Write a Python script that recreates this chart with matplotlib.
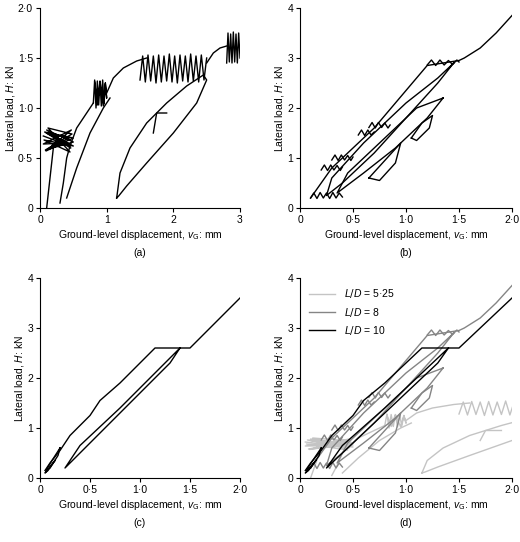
import matplotlib
matplotlib.use("Agg")
import matplotlib.pyplot as plt
from matplotlib.ticker import FuncFormatter, MultipleLocator

plt.rcParams["font.family"] = ["Liberation Sans", "DejaVu Sans"]
plt.rcParams["font.size"] = 7.5
plt.rcParams["mathtext.fontset"] = "custom"
plt.rcParams["mathtext.it"] = "Liberation Sans:italic"

# L/D = 5.25 (panel a): list of polylines (x mm, y kN)
a_lines = [
    ([0.10, 0.15, 0.20, 0.25], [0.0, 0.3, 0.6, 0.7]),
    ([0.05, 0.45, 0.10, 0.50, 0.08, 0.48, 0.12, 0.45, 0.06, 0.50, 0.10, 0.44, 0.15, 0.42,
      0.05, 0.47, 0.09, 0.50, 0.07, 0.46],
     [0.72, 0.62, 0.78, 0.66, 0.58, 0.74, 0.80, 0.56, 0.68, 0.62, 0.75, 0.70, 0.60, 0.65,
      0.64, 0.78, 0.57, 0.70, 0.76, 0.60]),
    ([0.30, 0.35, 0.40, 0.45], [0.05, 0.25, 0.50, 0.62]),
    ([0.40, 0.55, 0.75, 0.95, 1.05], [0.10, 0.40, 0.75, 1.00, 1.10]),
    ([0.45, 0.55, 0.70, 0.80], [0.62, 0.80, 0.95, 1.05]),
    ([0.80, 0.82, 0.84, 0.86, 0.88, 0.90, 0.92, 0.94, 0.96, 0.98, 1.00, 0.98, 0.95, 0.90, 0.86, 0.82],
     [1.05, 1.28, 1.00, 1.27, 1.03, 1.26, 1.02, 1.28, 1.04, 1.25, 1.10, 1.25, 1.02, 1.27, 1.03, 1.26]),
    ([1.00, 1.10, 1.25, 1.45, 1.60], [1.15, 1.30, 1.40, 1.47, 1.50]),
    ([1.50, 1.54, 1.58, 1.62, 1.66, 1.70, 1.74, 1.78, 1.82, 1.86, 1.90, 1.94, 1.98, 2.02, 2.06,
      2.10, 2.14, 2.18, 2.22, 2.26, 2.30, 2.34, 2.38, 2.42, 2.46, 2.50],
     [1.28, 1.52, 1.26, 1.53, 1.27, 1.52, 1.25, 1.53, 1.26, 1.52, 1.27, 1.54, 1.26, 1.52, 1.25,
      1.53, 1.27, 1.52, 1.26, 1.54, 1.27, 1.52, 1.26, 1.53, 1.28, 1.50]),
    ([2.50, 2.60, 2.70, 2.80], [1.45, 1.55, 1.60, 1.62]),
    ([2.80, 2.82, 2.84, 2.86, 2.88, 2.90, 2.92, 2.94, 2.96, 2.98, 3.00],
     [1.45, 1.75, 1.46, 1.74, 1.45, 1.76, 1.46, 1.74, 1.45, 1.75, 1.50]),
    ([1.15, 1.20, 1.35, 1.60, 1.90, 2.20, 2.45, 2.50, 2.35, 2.00, 1.60, 1.30, 1.18, 1.15],
     [0.10, 0.35, 0.60, 0.85, 1.05, 1.22, 1.33, 1.28, 1.05, 0.75, 0.45, 0.22, 0.12, 0.10]),
    ([1.70, 1.75, 1.90], [0.75, 0.95, 0.95]),
]

# L/D = 8 (panel b)
b_lines = [
    ([0.10, 0.20, 0.30, 0.50, 0.70, 0.90, 1.10, 1.20, 1.50, 1.55, 1.70, 1.85, 2.00],
     [0.20, 0.50, 0.80, 1.20, 1.60, 2.10, 2.60, 2.85, 2.95, 3.00, 3.20, 3.50, 3.85]),
    ([1.45, 1.30, 1.00, 0.70, 0.40, 0.25, 0.30, 0.60, 1.00, 1.30, 1.45],
     [2.90, 2.50, 1.80, 1.10, 0.50, 0.25, 0.60, 1.30, 2.10, 2.60, 2.90]),
    ([1.35, 1.20, 0.90, 0.60, 0.35, 0.45, 0.75, 1.10, 1.35],
     [2.20, 1.80, 1.20, 0.70, 0.30, 0.70, 1.30, 2.00, 2.20]),
    ([1.05, 1.15, 1.25, 1.22, 1.10, 1.05], [1.40, 1.70, 1.85, 1.60, 1.35, 1.40]),
    ([0.65, 0.80, 0.95, 0.90, 0.75, 0.65], [0.60, 0.95, 1.30, 0.90, 0.55, 0.60]),
    ([0.10, 0.13, 0.16, 0.19, 0.22, 0.25, 0.28, 0.31, 0.34, 0.37, 0.40],
     [0.20, 0.30, 0.19, 0.31, 0.20, 0.30, 0.19, 0.31, 0.20, 0.30, 0.22]),
    ([0.20, 0.23, 0.26, 0.29, 0.32, 0.35, 0.38, 0.40], [0.76, 0.86, 0.75, 0.86, 0.76, 0.85, 0.75, 0.82]),
    ([0.30, 0.33, 0.36, 0.39, 0.42, 0.45, 0.48, 0.50], [0.96, 1.06, 0.95, 1.06, 0.96, 1.05, 0.95, 1.02]),
    ([0.55, 0.58, 0.61, 0.64, 0.67, 0.70], [1.46, 1.56, 1.45, 1.56, 1.46, 1.52]),
    ([0.65, 0.68, 0.71, 0.74, 0.77, 0.80, 0.83, 0.85], [1.61, 1.71, 1.60, 1.71, 1.61, 1.70, 1.60, 1.66]),
    ([1.20, 1.24, 1.28, 1.32, 1.36, 1.40, 1.44, 1.48, 1.50],
     [2.86, 2.96, 2.85, 2.96, 2.86, 2.95, 2.87, 2.96, 2.92]),
]

# L/D = 10 (panel c)
c_lines = [
    ([0.05, 0.10, 0.20, 0.30, 0.50, 0.60, 0.80, 1.00, 1.15, 1.50, 1.60, 1.80, 2.00],
     [0.15, 0.30, 0.55, 0.85, 1.25, 1.55, 1.90, 2.30, 2.60, 2.60, 2.80, 3.20, 3.60]),
    ([1.40, 1.30, 0.90, 0.50, 0.30, 0.25, 0.40, 0.80, 1.20, 1.40],
     [2.60, 2.30, 1.50, 0.70, 0.30, 0.20, 0.65, 1.40, 2.20, 2.60]),
    ([0.20, 0.12, 0.06, 0.10, 0.18, 0.20], [0.60, 0.35, 0.15, 0.20, 0.45, 0.60]),
    ([0.15, 0.08, 0.05, 0.12, 0.15], [0.35, 0.15, 0.10, 0.28, 0.35]),
]


def fmt(step):
    def f(v, p):
        if step < 1:
            return "0" if abs(v) < 1e-9 else ("%.1f" % v).replace(".", "·")
        return "%d" % round(v)
    return FuncFormatter(f)


fig = plt.figure(figsize=(5.2, 5.42), dpi=100)
W, H = 520, 542
boxes = {"a": (40, 8, 240, 208), "b": (300, 8, 512, 208),
         "c": (40, 278, 240, 478), "d": (300, 278, 512, 478)}


def make_ax(key, xmax, xstep, ymax, ystep):
    l, t, r, b = boxes[key]
    ax = fig.add_axes([l / W, 1 - b / H, (r - l) / W, (b - t) / H])
    ax.set_xlim(0, xmax)
    ax.set_ylim(0, ymax)
    ax.xaxis.set_major_locator(MultipleLocator(xstep))
    ax.yaxis.set_major_locator(MultipleLocator(ystep))
    ax.xaxis.set_major_formatter(fmt(xstep))
    ax.yaxis.set_major_formatter(fmt(ystep))
    for s in ("top", "right"):
        ax.spines[s].set_visible(False)
    ax.tick_params(direction="out", length=3, pad=2)
    ax.set_xlabel(r"Ground-level displacement, $v_\mathrm{G}$: mm", labelpad=2)
    ax.set_ylabel(r"Lateral load, $H$: kN", labelpad=1)
    ax.text(0.5, -0.2, "(%s)" % key, transform=ax.transAxes, ha="center", va="top")
    return ax


def draw(ax, lines, color, lw=1.0, label=None):
    for i, (x, y) in enumerate(lines):
        ax.plot(x, y, color=color, lw=lw, label=label if i == 0 else None)


ax = make_ax("a", 3, 1, 2, 0.5)
draw(ax, a_lines, "black")
ax = make_ax("b", 2, 0.5, 4, 1)
draw(ax, b_lines, "black")
ax = make_ax("c", 2, 0.5, 4, 1)
draw(ax, c_lines, "black")
ax = make_ax("d", 2, 0.5, 4, 1)
draw(ax, a_lines, "#c4c4c4", label=r"$L/D$ = 5·25")
draw(ax, b_lines, "#858585", label=r"$L/D$ = 8")
draw(ax, c_lines, "black", label=r"$L/D$ = 10")
ax.legend(loc="upper left", frameon=False, handlelength=2.5, fontsize=7.5)

fig.savefig("out.png", dpi=100)
